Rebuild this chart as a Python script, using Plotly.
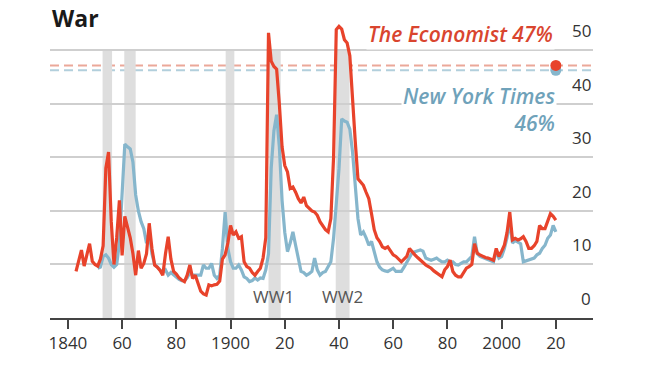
import plotly.graph_objects as go

# ---------------- data ----------------
eco_years = list(range(1843, 2021))
eco_values = [
    8.7, 11, 12.7, 9.7, 12, 13.9, 10.6, 10, 9.7, 11,            # 1843-1852
    13.5, 28, 31, 18, 10, 15, 22, 11.7, 19, 17,                  # 1853-1862
    15, 12, 8, 12.6, 9.3, 10.2, 12, 17.7, 13, 9.9,               # 1863-1872
    9.5, 8.9, 8, 12, 15.2, 11, 8.7, 8.2, 7.5, 7.1,               # 1873-1882
    6.8, 8.0, 9.9, 7.4, 8, 6.5, 5, 4.5, 4.3, 6.2,                # 1883-1892
    6.0, 6.2, 6.3, 6.9, 11, 11.8, 14, 17.3, 15.5, 16.1,          # 1893-1902
    14.9, 15.2, 10.5, 9.6, 9.3, 8.5, 8, 8.7, 9.3, 11.2,          # 1903-1912
    15, 53.3, 48, 47, 46.5, 40, 32, 28.5, 27.3, 24.2,            # 1913-1922
    24.5, 23.5, 22.3, 21.5, 22.6, 21, 20.4, 20, 19.8, 19.2,      # 1923-1932
    18, 17.3, 16.5, 16.1, 18.6, 30, 53.9, 54.5, 54, 52,          # 1933-1942
    51.4, 49, 40, 33, 26, 25.5, 24.8, 23.5, 22.3, 19.5,          # 1943-1952
    16.5, 15, 14.3, 13.3, 13, 13.3, 12.5, 11.8, 11.5, 11,        # 1953-1962
    10.5, 11, 11.5, 13, 12.3, 11.8, 11.3, 10.8, 10.3, 9.9,       # 1963-1972
    9.6, 9.3, 8.8, 8.4, 8, 7.7, 9, 9.6, 10.8, 8.7,               # 1973-1982
    8, 7.7, 7.7, 8.5, 9.3, 9.6, 10, 13.9, 12.1, 11.8,            # 1983-1992
    11.5, 11.3, 11.2, 11, 10.8, 13, 11.5, 12.5, 13.6, 16,        # 1993-2002
    19.8, 14.6, 14.9, 14.6, 14.8, 15.2, 14.3, 13, 13, 13.5,      # 2003-2012
    14.3, 17.3, 16.7, 16.7, 18, 19.5, 19, 18.3,                  # 2013-2020
]

nyt_years = list(range(1851, 2021))
nyt_values = [
    9.3, 9.5, 11.5, 11.8, 11.2, 10, 9.5, 10, 14, 24,             # 1851-1860
    32.5, 32, 31.6, 29.1, 23, 20, 18, 16.7, 14, 16,              # 1861-1870
    12, 10, 9.5, 9, 8.5, 9, 8, 8.5, 8, 7.5,                      # 1871-1880
    7.2, 7, 7, 7.5, 8.5, 8, 8, 8, 8, 9.9,                        # 1881-1890
    9.3, 9.3, 10.2, 8, 7.4, 8, 13, 19.8, 13, 10.5,               # 1891-1900
    9.3, 9.3, 9.9, 9, 7.7, 7.4, 6.8, 7, 7.5, 7.1,                # 1901-1910
    7.5, 7.4, 9, 12, 28, 35, 38, 32, 22, 16,                     # 1911-1920
    12.4, 14, 16.1, 13.6, 11, 8.7, 8.5, 8, 8.3, 8.7,             # 1921-1930
    11.2, 9, 8, 8.5, 8.7, 9.5, 10.5, 14.9, 22, 27.9,             # 1931-1940
    37.2, 36.8, 36.6, 35.3, 31, 24, 18.6, 15.5, 16.1, 15,        # 1941-1950
    13.6, 14.3, 12.5, 10.5, 9.5, 9, 8.8, 8.7, 9, 9.3,            # 1951-1960
    8.7, 8.7, 8.7, 9.5, 10.5, 11.5, 12.2, 12.4, 12.6, 12.7,      # 1961-1970
    12.5, 11.2, 11, 10.8, 11, 11.2, 10.8, 10.5, 10.5, 10.8,      # 1971-1980
    10.5, 10.5, 10, 9.9, 10.2, 10.5, 10.5, 11, 11.5, 15.2,       # 1981-1990
    12, 11.5, 11.3, 11, 10.8, 10.6, 10.5, 12.5, 11.2, 11.5,      # 1991-2000
    13, 15, 18, 14, 14.5, 14.2, 13.9, 10.5, 10.7, 10.8,          # 2001-2010
    11, 11.2, 11.8, 12.1, 13, 13.6, 14.9, 15.5, 17.3, 16.1,      # 2011-2020
]

eco_average = 47.2
nyt_average = 46.3

war_periods = [(1852.8, 1856.3), (1860.8, 1865.0), (1898.2, 1901.4),
               (1914.0, 1918.5), (1938.8, 1943.9)]
war_labels = [("WW1", 1915.8), ("WW2", 1941.2)]

x_tickvals = [1840, 1860, 1880, 1900, 1920, 1940, 1960, 1980, 2000, 2020]
x_ticktext = ["1840", "60", "80", "1900", "20", "40", "60", "80", "2000", "20"]
y_tickvals = [0, 10, 20, 30, 40, 50]

RED = "#e8432b"
BLUE = "#86b6cc"
RED_TEXT = "#d9452f"
BLUE_TEXT = "#6fa2ba"
FONT = "Open Sans"

fig = go.Figure()

# shaded war periods
for x0, x1 in war_periods:
    fig.add_shape(type="rect", xref="x", yref="y", x0=x0, x1=x1, y0=0, y1=50,
                  fillcolor="#dedede", line_width=0, layer="below")

# average dashed lines
fig.add_shape(type="line", xref="paper", yref="y", x0=0, x1=1,
              y0=eco_average, y1=eco_average,
              line=dict(color="#eba899", width=2, dash="9px,5px"), layer="below")
fig.add_shape(type="line", xref="paper", yref="y", x0=0, x1=1,
              y0=nyt_average, y1=nyt_average,
              line=dict(color="#b2cfdc", width=2, dash="9px,5px"), layer="below")

fig.add_trace(go.Scatter(x=nyt_years, y=nyt_values, mode="lines",
                         line=dict(color=BLUE, width=3.2), hoverinfo="skip"))
fig.add_trace(go.Scatter(x=eco_years, y=eco_values, mode="lines",
                         line=dict(color=RED, width=3.2), hoverinfo="skip"))

fig.add_trace(go.Scatter(x=[2020], y=[nyt_average], mode="markers",
                         marker=dict(color=BLUE, size=11), hoverinfo="skip"))
fig.add_trace(go.Scatter(x=[2020], y=[eco_average], mode="markers",
                         marker=dict(color=RED, size=11), hoverinfo="skip"))

# y tick labels sitting above gridlines on the right
for v in y_tickvals:
    fig.add_annotation(xref="paper", yref="y", x=1, y=v, text=str(v),
                       showarrow=False, xanchor="right", yanchor="bottom",
                       yshift=6, font=dict(family=FONT, size=17, color="#333333"))

# war labels
for txt, xv in war_labels:
    fig.add_annotation(xref="x", yref="y", x=xv, y=4.0, text=txt, showarrow=False,
                       xanchor="center", yanchor="middle",
                       font=dict(family=FONT, size=17, color="#555555"))

# series labels
fig.add_annotation(xref="x", yref="y", x=2019.6, y=53.0, text="The Economist 47%",
                   showarrow=False, xanchor="right", yanchor="middle",
                   bgcolor="white", borderpad=1,
                   font=dict(family=FONT, size=21, color=RED_TEXT, style="italic", weight=600))
fig.add_annotation(xref="x", yref="y", x=2020.5, y=38.9, text="New York Times<br>46%",
                   showarrow=False, xanchor="right", yanchor="middle", align="right",
                   bgcolor="white", borderpad=1,
                   font=dict(family=FONT, size=21, color=BLUE_TEXT, style="italic", weight=600))

# title
fig.add_annotation(xref="paper", yref="paper", x=0, y=1, text="<b>War</b>",
                   showarrow=False, xanchor="left", yanchor="top", xshift=0, yshift=13,
                   font=dict(family=FONT, size=23, color="#1a1a1a"))

fig.update_layout(
    width=654, height=366,
    margin=dict(l=50, r=61, t=13, b=46),
    paper_bgcolor="white", plot_bgcolor="white",
    showlegend=False,
    hovermode=False,
    xaxis=dict(range=[1833.4, 2033.7], tickvals=x_tickvals, ticktext=x_ticktext,
               showgrid=False, zeroline=False, showline=True, linecolor="#444444",
               linewidth=2, ticks="outside", ticklen=9, tickwidth=1.5,
               tickcolor="#444444", tickfont=dict(family=FONT, size=17, color="#333333")),
    yaxis=dict(range=[0, 57], tickvals=y_tickvals, showticklabels=False,
               showgrid=True, gridcolor="#cfcfcf", gridwidth=1.5, zeroline=False,
               showline=False, fixedrange=True),
)

# remove the browser's default page margin so the 654x366 figure fills the window
fig.write_html("out.html", config={"displayModeBar": False},
               post_script="document.body.style.margin='0';")
